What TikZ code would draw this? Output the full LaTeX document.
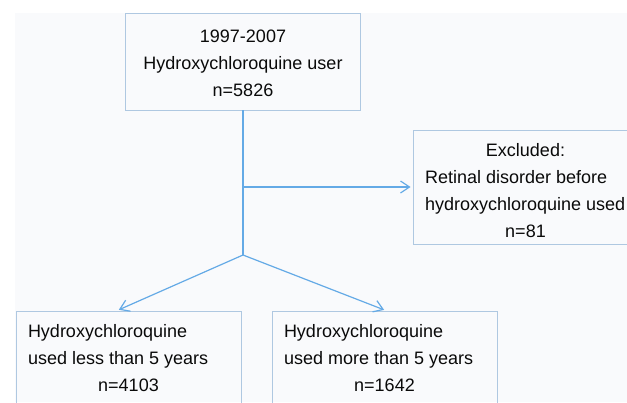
\documentclass[tikz,border=0pt]{standalone}
\usepackage{fontspec}
\setmainfont{Liberation Sans}
\usepackage{xcolor}
\usepackage{tikz}
\usetikzlibrary{positioning,arrows.meta}

\definecolor{linkblue}{RGB}{100,170,230}
\definecolor{boxedge}{RGB}{175,200,225}
\definecolor{panelgray}{RGB}{249,250,252}
\definecolor{inkgray}{RGB}{10,10,10}

\begin{document}
\begin{tikzpicture}[x=1pt, y=-1pt,
    box/.style={draw=boxedge, line width=0.8pt, rectangle, inner xsep=12pt, inner ysep=0pt, text=inkgray, font=\fontsize{18}{27}\selectfont},
    link/.style={draw=linkblue, line width=1.2pt},
    flow/.style={link, shorten >=2pt, -{Straight Barb[length=9pt,width=12pt]}}]
    % page and grey panel
    \useasboundingbox (0,0) rectangle (627,402);
    \clip (0,0) rectangle (627,402);
    \fill[white] (0,0) rectangle (627,402);
    \fill[panelgray] (15,13) rectangle (627,402);

    % All users
    \node[box, minimum width=228pt, minimum height=97pt] (cohort) at (243,61.5) {
        \raisebox{-2.5pt}[\height][\depth]{\begin{tabular}{c}
        1997-2007\\
        Hydroxychloroquine user\\
        n=5826
        \end{tabular}}
    };

    % Excluded
    \node[box, minimum width=225pt, minimum height=114pt] (excl) at (525.5,187) {
        \raisebox{-5pt}[\height][\depth]{\begin{tabular}{@{}p{201pt}@{}}
        \multicolumn{1}{@{}c@{}}{Excluded:}\\
        Retinal disorder before\\
        hydroxychloroquine used\\
        \multicolumn{1}{@{}c@{}}{n=81}
        \end{tabular}}
    };

    % Less than 5 years
    \node[box, minimum width=225pt, minimum height=96pt] (lessuse) at (128.5,359) {
        \begin{tabular}{@{}p{201pt}@{}}
        Hydroxychloroquine\\
        used less than 5 years\\
        \multicolumn{1}{@{}c@{}}{n=4103}
        \end{tabular}
    };

    % More than 5 years
    \node[box, minimum width=225pt, minimum height=96pt] (moreuse) at (384.5,359) {
        \begin{tabular}{@{}p{201pt}@{}}
        Hydroxychloroquine\\
        used more than 5 years\\
        \multicolumn{1}{@{}c@{}}{n=1642}
        \end{tabular}
    };

    % Connectors
    \coordinate (fork) at (243,255);
    \draw[link] (cohort.south) -- (fork);
    \draw[flow] (cohort.south |- excl.west) -- (excl.west);
    \draw[flow] (fork) -- ([xshift=-11.5pt]lessuse.north);
    \draw[flow] (fork) -- ([xshift=1.5pt]moreuse.north);
\end{tikzpicture}
\end{document}
